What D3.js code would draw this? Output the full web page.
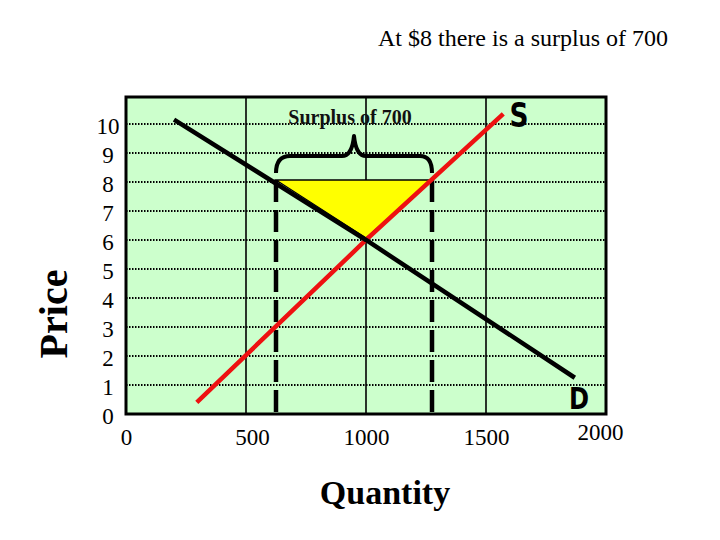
<!DOCTYPE html>
<html>
<head>
<meta charset="utf-8">
<script src="https://cdn.jsdelivr.net/npm/d3@7"></script>
<style>
  html, body { margin: 0; padding: 0; background: #ffffff; }
  svg { display: block; }
</style>
</head>
<body>
<svg id="chart" width="720" height="540"></svg>
<script>
// ---- Data ----
const xTicks = [0, 500, 1000, 1500, 2000];
const yTicks = [0, 1, 2, 3, 4, 5, 6, 7, 8, 9, 10];
const demand = [{q: 200, p: 10.15}, {q: 1000, p: 6}, {q: 1870, p: 1.25}];
const supply = [{q: 295, p: 0.4}, {q: 1000, p: 6}, {q: 1572, p: 10.35}];
const surplusPrice = 8;
const qDemanded = 625;
const qSupplied = 1275;
const equilibrium = {q: 1000, p: 6};
const titleText = "At $8 there is a surplus of 700";
const surplusLabel = "Surplus of 700";
const xLabel = "Quantity";
const yLabel = "Price";

// ---- Layout ----
const svg = d3.select("#chart");
const plot = {left: 126, right: 606, top: 97, bottom: 414};
const x = d3.scaleLinear().domain([0, 2000]).range([plot.left, plot.right]);
const y = d3.scaleLinear().domain([0, 10.93]).range([plot.bottom, plot.top]);
const serif = "'Liberation Serif', 'Times New Roman', Times, serif";

// background
svg.append("rect")
  .attr("x", plot.left).attr("y", plot.top)
  .attr("width", plot.right - plot.left).attr("height", plot.bottom - plot.top)
  .attr("fill", "#ccffcc");

// horizontal dotted gridlines
svg.append("g").selectAll("line").data(yTicks.filter(d => d > 0)).join("line")
  .attr("x1", plot.left).attr("x2", plot.right)
  .attr("y1", d => y(d)).attr("y2", d => y(d))
  .attr("stroke", "#000").attr("stroke-width", 2)
  .attr("stroke-dasharray", "1.5,1.5");

// vertical solid gridlines
svg.append("g").selectAll("line").data(xTicks.filter(d => d > 0 && d < 2000)).join("line")
  .attr("x1", d => x(d)).attr("x2", d => x(d))
  .attr("y1", plot.top).attr("y2", plot.bottom)
  .attr("stroke", "#000").attr("stroke-width", 1.6);

// surplus triangle
const tri = [[qDemanded, surplusPrice], [qSupplied, surplusPrice], [equilibrium.q, equilibrium.p]];
svg.append("path")
  .attr("d", "M" + tri.map(d => [x(d[0]), y(d[1]) - 2].join(",")).join("L") + "Z")
  .attr("fill", "#ffff00").attr("stroke", "#000").attr("stroke-width", 1.3);

// dashed verticals
svg.append("g").selectAll("line").data([qDemanded, qSupplied]).join("line")
  .attr("x1", d => x(d)).attr("x2", d => x(d))
  .attr("y1", y(surplusPrice) - 2).attr("y2", plot.bottom)
  .attr("stroke", "#000").attr("stroke-width", 4.5)
  .attr("stroke-dasharray", "22,8");

// curves
const line = d3.line().x(d => x(d.q)).y(d => y(d.p));
svg.append("path").datum(supply).attr("d", line)
  .attr("fill", "none").attr("stroke", "#ee1111").attr("stroke-width", 4.5);
svg.append("path").datum(demand).attr("d", line)
  .attr("fill", "none").attr("stroke", "#000").attr("stroke-width", 4.5);

// border
svg.append("rect")
  .attr("x", plot.left).attr("y", plot.top)
  .attr("width", plot.right - plot.left).attr("height", plot.bottom - plot.top)
  .attr("fill", "none").attr("stroke", "#000").attr("stroke-width", 3);

// brace
const bl = x(qDemanded), br = x(qSupplied);
const tipX = (bl + br) / 2;
const armY = y(surplusPrice) - 26, endY = y(surplusPrice) - 9, tipY = y(surplusPrice) - 46;
const brace = d3.path();
brace.moveTo(bl, endY);
brace.quadraticCurveTo(bl, armY, bl + 14, armY);
brace.lineTo(tipX - 12, armY);
brace.quadraticCurveTo(tipX - 2, armY, tipX, tipY);
brace.quadraticCurveTo(tipX + 2, armY, tipX + 12, armY);
brace.lineTo(br - 12, armY);
brace.quadraticCurveTo(br, armY, br, endY);
svg.append("path").attr("d", brace.toString())
  .attr("fill", "none").attr("stroke", "#000").attr("stroke-width", 4)
  .attr("stroke-linejoin", "round");

// surplus label
svg.append("text")
  .attr("x", (bl + br) / 2 - 4).attr("y", 124)
  .attr("text-anchor", "middle")
  .attr("font-family", serif).attr("font-weight", "bold").attr("font-size", 20)
  .attr("fill", "#111")
  .text(surplusLabel);

// axes
const yAxis = svg.append("g").attr("transform", `translate(${plot.left},0)`)
  .call(d3.axisLeft(y).tickValues(yTicks).tickSize(0).tickFormat(d3.format("d")));
yAxis.select(".domain").remove();
yAxis.selectAll("text")
  .attr("x", -18).attr("dy", "0.42em")
  .attr("text-anchor", "middle")
  .attr("font-family", serif).attr("font-size", 23).attr("fill", "#000");

const xAxis = svg.append("g").attr("transform", `translate(0,${plot.bottom})`)
  .call(d3.axisBottom(x).tickValues(xTicks).tickSize(0).tickFormat(d3.format("d")));
xAxis.select(".domain").remove();
xAxis.selectAll("text")
  .attr("y", 31).attr("dy", 0)
  .attr("font-family", serif).attr("font-size", 23).attr("fill", "#000");
xAxis.selectAll(".tick").filter(d => d === 500).select("text").attr("x", 6);
xAxis.selectAll(".tick").filter(d => d === 2000).select("text").attr("x", -6).attr("y", 26);

// axis titles
svg.append("text")
  .attr("x", (plot.left + plot.right) / 2 + 19).attr("y", 504)
  .attr("text-anchor", "middle")
  .attr("font-family", serif).attr("font-weight", "bold").attr("font-size", 34)
  .text(xLabel);
svg.append("text")
  .attr("transform", "translate(67,314) rotate(-90)")
  .attr("text-anchor", "middle")
  .attr("font-family", serif).attr("font-weight", "bold").attr("font-size", 40)
  .text(yLabel);

// title
svg.append("text")
  .attr("x", 668).attr("y", 46)
  .attr("text-anchor", "end")
  .attr("font-family", serif).attr("font-size", 24)
  .text(titleText);

// curve labels
const heavy = "'DejaVu Sans', sans-serif";
svg.append("text")
  .attr("x", x(supply[supply.length - 1].q) + 6).attr("y", 127)
  .attr("font-family", heavy).attr("font-weight", "bold").attr("font-size", 33)
  .attr("transform-origin", "510 127")
  .attr("transform", "scale(0.8,1)")
  .text("S");
svg.append("text")
  .attr("x", x(demand[demand.length - 1].q) - 6).attr("y", 409)
  .attr("font-family", heavy).attr("font-weight", "bold").attr("font-size", 31)
  .attr("transform-origin", "570 409")
  .attr("transform", "scale(0.78,1)")
  .text("D");
</script>
</body>
</html>
